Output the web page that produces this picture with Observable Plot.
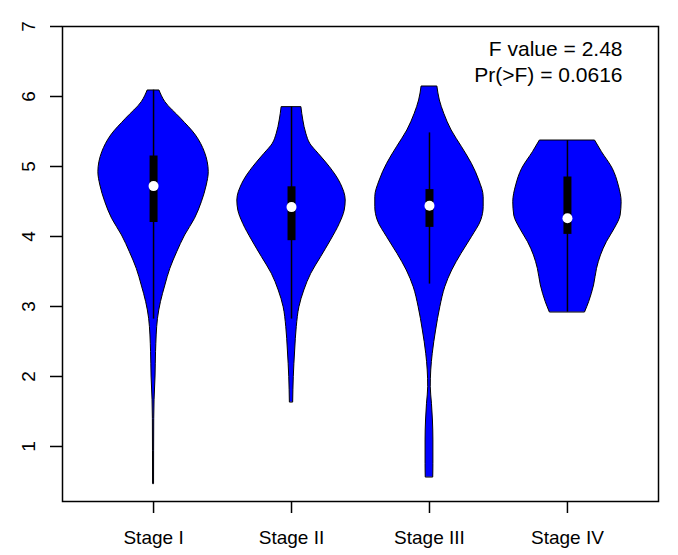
<!DOCTYPE html>
<html><head><meta charset="utf-8">
<script src="https://cdn.jsdelivr.net/npm/d3@7"></script>
<script src="https://cdn.jsdelivr.net/npm/@observablehq/plot@0.6"></script>
<style>body{margin:0;background:#fff}</style>
</head><body><div id="chart"></div>
<script>
// Categories
const stages = ["Stage I", "Stage II", "Stage III", "Stage IV"];
const yTicks = [1, 2, 3, 4, 5, 6, 7];

// Violin outlines: value levels (ascending) and relative density (max = 1)
const levelsI = [0.467, 1.395, 1.66, 2.0, 2.348, 2.824, 3.062, 3.3, 3.538, 3.776, 4.014, 4.252, 4.49, 4.729, 4.919, 5.205, 5.443, 5.681, 5.919, 6.086];
const densI   = [0.009, 0.0125, 0.018, 0.036, 0.045, 0.08, 0.134, 0.214, 0.304, 0.429, 0.571, 0.75, 0.875, 0.964, 1.0, 0.929, 0.768, 0.5, 0.214, 0.107];

const levelsII = [1.633, 1.99, 2.371, 2.705, 2.99, 3.229, 3.467, 3.705, 3.943, 4.181, 4.371, 4.514, 4.752, 4.99, 5.181, 5.324, 5.467, 5.657, 5.848];
const densII   = [0.03, 0.041, 0.066, 0.095, 0.143, 0.232, 0.357, 0.536, 0.714, 0.875, 0.964, 0.982, 0.893, 0.696, 0.491, 0.339, 0.268, 0.214, 0.179];

const levelsIII = [0.562, 0.752, 1.086, 1.371, 1.61, 1.848, 2.086, 2.324, 2.657, 2.99, 3.276, 3.514, 3.752, 3.99, 4.229, 4.419, 4.562, 4.8, 5.038, 5.276, 5.514, 5.752, 5.943, 6.143];
const densIII   = [0.068, 0.071, 0.071, 0.0625, 0.045, 0.023, 0.032, 0.059, 0.12, 0.196, 0.286, 0.411, 0.58, 0.768, 0.938, 0.982, 0.982, 0.902, 0.768, 0.589, 0.402, 0.268, 0.188, 0.143];

const levelsIV = [2.919, 3.062, 3.3, 3.538, 3.729, 3.919, 4.11, 4.3, 4.49, 4.729, 4.967, 5.205, 5.371];
const densIV   = [0.321, 0.393, 0.482, 0.536, 0.607, 0.714, 0.857, 0.964, 0.982, 0.929, 0.821, 0.625, 0.5];

// Box statistics per stage
const whiskerLow  = [2.82, 2.82, 3.32, 2.92];
const quart1      = [4.20, 3.94, 4.13, 4.03];
const medians     = [4.72, 4.42, 4.44, 4.26];
const quart3      = [5.15, 4.71, 4.67, 4.85];
const whiskerHigh = [6.09, 5.85, 5.48, 5.37];

// ANOVA annotation
const fValue = "2.48";
const pValue = "0.0616";

// Build tables
const violinSets = [[levelsI, densI], [levelsII, densII], [levelsIII, densIII], [levelsIV, densIV]];
const violinRows = [];
violinSets.forEach(([lv, dn], i) => lv.forEach((v, j) => violinRows.push({stage: i + 1, y: v, d: dn[j]})));
const boxRows = stages.map((s, i) => ({stage: i + 1, lo: whiskerLow[i], q1: quart1[i], med: medians[i], q3: quart3[i], hi: whiskerHigh[i]}));

const halfWidth = 0.4;

const chart = Plot.plot({
  width: 678,
  height: 555,
  marginLeft: 62,
  marginRight: 20,
  marginTop: 26,
  marginBottom: 54,
  style: {fontFamily: "'Liberation Sans', Arial, sans-serif", fontSize: "19px", color: "black", background: "white"},
  x: {domain: [0.34, 4.66]},
  y: {domain: [0.214, 7]},
  marks: [
    Plot.areaX(violinRows, {
      y: "y",
      x1: d => d.stage - halfWidth * d.d,
      x2: d => d.stage + halfWidth * d.d,
      z: "stage",
      fill: "#0000ff",
      stroke: "black",
      strokeWidth: 1,
      curve: "monotone-y"
    }),
    Plot.ruleX(boxRows, {x: "stage", y1: "lo", y2: "hi", stroke: "black", strokeWidth: 1.5}),
    Plot.ruleX(boxRows, {x: "stage", y1: "q1", y2: "q3", stroke: "black", strokeWidth: 8}),
    Plot.dot(boxRows, {x: "stage", y: "med", r: 5, fill: "white"}),
    Plot.text([`F value = ${fValue}\nPr(>F) = ${pValue}`], {
      frameAnchor: "top-right",
      textAnchor: "end",
      lineAnchor: "top",
      dx: -36,
      dy: 11,
      fontSize: 21,
      lineHeight: 1.25
    }),
    Plot.axisX({ticks: [1, 2, 3, 4], tickFormat: i => stages[i - 1], tickSize: 12, tickPadding: 17, strokeWidth: 1.5, label: null}),
    Plot.axisY({ticks: yTicks, tickFormat: d => String(d), tickSize: 12, tickPadding: 16, tickRotate: -90, strokeWidth: 1.5, label: null}),
    Plot.frame({stroke: "black", strokeWidth: 1.5})
  ]
});
document.getElementById("chart").appendChild(chart);
</script>
</body></html>
